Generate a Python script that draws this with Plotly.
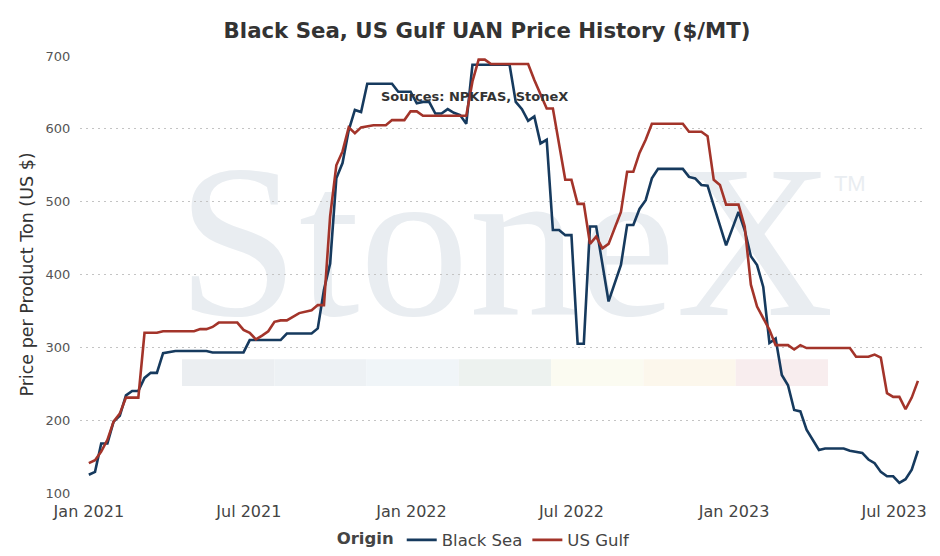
import pandas as pd
import plotly.graph_objects as go

# ---- data (weekly observations, week index from 2021-01-01) ----
start_date = "2021-01-01"

bs_week = [0, 1, 2, 3, 4, 5, 6, 7, 8, 9, 10, 11, 12, 13, 14,
           19, 20, 25, 26, 31, 32, 36, 37, 38, 39, 40, 41, 42, 43, 44, 45,
           49, 50, 52, 53, 54, 55, 56, 57, 58, 59, 60, 61, 62,
           68, 69, 70, 71, 72, 73, 74, 75, 76, 77, 78, 79, 80, 81, 82,
           84, 86, 87, 88, 89, 90, 91, 92,
           96, 97, 98, 99, 100,
           103, 105, 106, 107, 108, 109, 110, 111, 112, 113, 114, 115, 116,
           118, 119, 122, 123, 125, 126, 127, 128, 129, 130, 131, 132, 133, 134]
bs_val = [125, 129, 168, 168, 198, 206, 234, 240, 240, 258, 265, 265, 292, 293, 295,
          295, 293, 293, 310, 310, 319, 319, 326, 379, 415, 532, 553, 598, 626, 623, 662,
          662, 651, 651, 635, 637, 637, 621, 621, 627, 622, 619, 607, 688,
          688, 637, 627, 611, 617, 580, 585, 461, 461, 454, 454, 305, 305, 466, 466,
          363, 413, 468, 468, 490, 502, 532, 545,
          545, 534, 532, 523, 522,
          440, 486, 461, 425, 413, 383, 306, 312, 262, 248, 214, 212, 187,
          159, 161, 161, 158, 155, 146, 141, 129, 123, 123, 114, 119, 132, 158]

ug_week = [0, 1, 2, 3, 4, 5, 6, 8, 9, 11, 12, 17, 18, 19, 20, 21, 24,
           25, 26, 27, 28, 29, 30, 31, 32, 33, 34, 36, 37, 38, 39, 40, 41, 42, 43, 44,
           46, 48, 49, 51, 52, 53, 54,
           61, 62, 63, 64, 65, 71, 72, 73, 74, 75, 76, 77, 78, 79, 80, 81, 82, 83, 84,
           86, 87, 88, 89, 90, 91, 96, 97, 99, 100, 101, 102, 103, 105, 106, 107, 108,
           110, 111, 113, 114, 115, 116,
           123, 124, 126, 127, 128, 129, 130, 131, 132, 133, 134]
ug_val = [141, 145, 157, 173, 198, 209, 231, 231, 320, 320, 322, 322, 325, 325, 328, 334, 334,
          324, 320, 311, 316, 322, 335, 337, 337, 342, 347, 351, 358, 358, 480, 550, 569, 602, 594, 602,
          605, 605, 612, 612, 624, 624, 618,
          618, 665, 695, 695, 689, 689, 667, 647, 628, 628, 576, 530, 530, 497, 497, 442, 452, 436, 442,
          486, 541, 541, 567, 585, 607, 607, 596, 596, 590, 530, 523, 496, 496, 466, 386, 356,
          324, 303, 303, 297, 303, 299,
          299, 287, 287, 290, 286, 237, 232, 232, 215, 231, 254]

series_names = ["Black Sea", "US Gulf"]
series_colors = ["#163a5e", "#a3342a"]

title_text = "Black Sea, US Gulf UAN Price History ($/MT)"
y_title = "Price per Product Ton (US $)"
source_text = "Sources: NPKFAS, StoneX"

band_colors = ["#ebeef1", "#edf1f4", "#f0f5f8", "#edf2ef", "#fbfbf1", "#fcf7ec", "#f8edee"]

FONT = "DejaVu Sans, Verdana, sans-serif"

# page body has an 8px margin, so the figure is sized to fit inside the window
FIG_W, FIG_H = 932, 548


def to_dates(weeks):
    return pd.Timestamp(start_date) + pd.to_timedelta([w * 7 for w in weeks], unit="D")


fig = go.Figure()
for name, weeks, vals, col in [(series_names[0], bs_week, bs_val, series_colors[0]),
                               (series_names[1], ug_week, ug_val, series_colors[1])]:
    fig.add_trace(go.Scatter(x=to_dates(weeks), y=vals, mode="lines", name=name,
                             line=dict(color=col, width=2.6)))

# watermark band (decoration)
x0, x1 = 0.1207, 0.8852
w = (x1 - x0) / len(band_colors)
for i, c in enumerate(band_colors):
    fig.add_shape(type="rect", xref="x domain", yref="y domain",
                  x0=x0 + i * w, x1=x0 + (i + 1) * w, y0=0.245, y1=0.306,
                  fillcolor=c, line=dict(width=0), layer="below")

# watermark text
fig.add_shape(type="rect", xref="x domain", yref="y domain",
              x0=0.006, x1=1.001, y0=0.432, y1=0.832,
              fillcolor="rgba(0,0,0,0)", line=dict(width=0), layer="below",
              label=dict(text="StoneX", textposition="middle center",
                         font=dict(family="Liberation Serif, Times New Roman, serif",
                                   size=219, color="#e9edf1")))
fig.add_shape(type="rect", xref="x domain", yref="y domain",
              x0=0.881, x1=0.941, y0=0.683, y1=0.743,
              fillcolor="rgba(0,0,0,0)", line=dict(width=0), layer="below",
              label=dict(text="TM", textposition="middle center",
                         font=dict(family="Liberation Sans, Arial, sans-serif",
                                   size=22, color="#e9edf1")))

fig.add_annotation(text="<b>" + source_text + "</b>", xref="paper", yref="paper",
                   x=0.467, y=0.929, showarrow=False,
                   font=dict(family=FONT, size=13, color="#333333"))

fig.update_layout(
    width=FIG_W, height=FIG_H,
    margin=dict(l=72, r=15, t=48, b=63, autoexpand=False),
    paper_bgcolor="white", plot_bgcolor="white",
    font=dict(family=FONT, color="#444444"),
    title=dict(text="<b>" + title_text + "</b>", x=0.514, xanchor="center",
               y=0.958, yanchor="middle", yref="container", automargin=False,
               font=dict(family=FONT, size=21.3, color="#333333")),
    showlegend=True,
    legend=dict(orientation="h", xref="container", yref="container",
                x=0.512, xanchor="center", y=0.029, yanchor="middle",
                title=dict(text="<b>Origin</b>", font=dict(size=16.5, color="#444444")),
                font=dict(size=16.5, color="#444444"), itemwidth=30),
)
fig.update_xaxes(range=["2020-12-22", "2023-08-05"], dtick="M6", tick0="2021-01-01",
                 tickformat="%b %Y", showgrid=False, zeroline=False, showline=False,
                 automargin=False, ticks="outside", ticklen=4, tickcolor="rgba(0,0,0,0)",
                 tickfont=dict(size=16, color="#444444"))
fig.update_yaxes(range=[100, 700], dtick=100, showgrid=True, gridcolor="#c4c4c4",
                 griddash="2px,4px", gridwidth=1, zeroline=False, showline=False,
                 automargin=False,
                 ticks="outside", ticklen=6, tickcolor="rgba(0,0,0,0)",
                 tickfont=dict(size=13, color="#555555"),
                 title=dict(text=y_title, standoff=7,
                            font=dict(size=17.5, color="#333333")))

fig.write_html("out.html")
